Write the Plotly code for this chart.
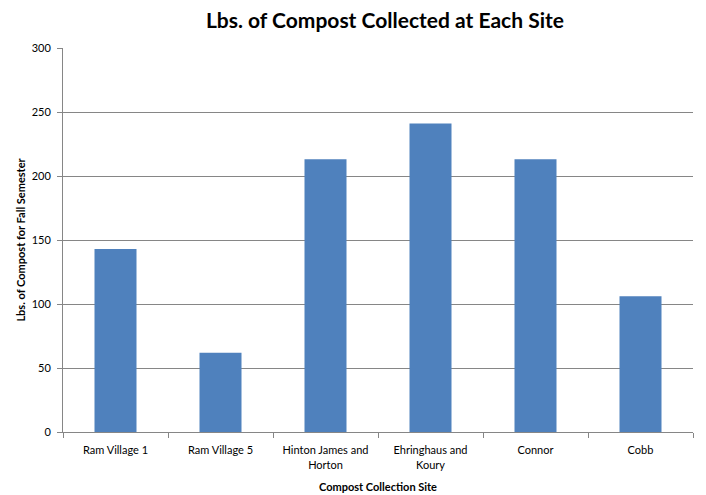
import plotly.graph_objects as go

sites = ["Ram Village 1", "Ram Village 5", "Hinton James and<br>Horton",
         "Ehringhaus and<br>Koury", "Connor", "Cobb"]
lbs = [143, 62, 213, 241, 213, 106]

fig = go.Figure(go.Bar(
    x=sites,
    y=lbs,
    marker=dict(color="#4f81bd", line=dict(width=0)),
    width=0.4,
))

# page has an 8px body margin, so the figure is a bit smaller than the window
fig.update_layout(
    width=698,
    height=487,
    margin=dict(l=55, r=13, t=40, b=63),
    paper_bgcolor="white",
    plot_bgcolor="white",
    font=dict(family="Lato, sans-serif", size=11, color="#000000"),
    title=dict(
        text="<b>Lbs. of Compost Collected at Each Site</b>",
        x=0.54, xanchor="center", y=1.0, yanchor="top",
        pad=dict(t=5),
        font=dict(size=21, color="#000000"),
    ),
    showlegend=False,
    bargap=0.6,
)

fig.update_xaxes(
    automargin=False,
    showline=True, linecolor="#868686", linewidth=1,
    ticks="outside", tickson="boundaries", ticklen=5, tickcolor="#868686",
    ticklabelstandoff=8,
    showgrid=False,
    title=dict(text="<b>Compost Collection Site</b>", font=dict(size=11), standoff=13),
)
fig.update_yaxes(
    automargin=False,
    range=[0, 300], dtick=50,
    showline=True, linecolor="#868686", linewidth=1,
    ticks="outside", ticklen=5, tickcolor="#868686",
    ticklabelstandoff=4,
    showgrid=True, gridcolor="#868686", gridwidth=1,
    zeroline=False,
    title=dict(text="<b>Lbs. of Compost for Fall Semester</b>", font=dict(size=11), standoff=3),
)

fig.write_html("out.html")
